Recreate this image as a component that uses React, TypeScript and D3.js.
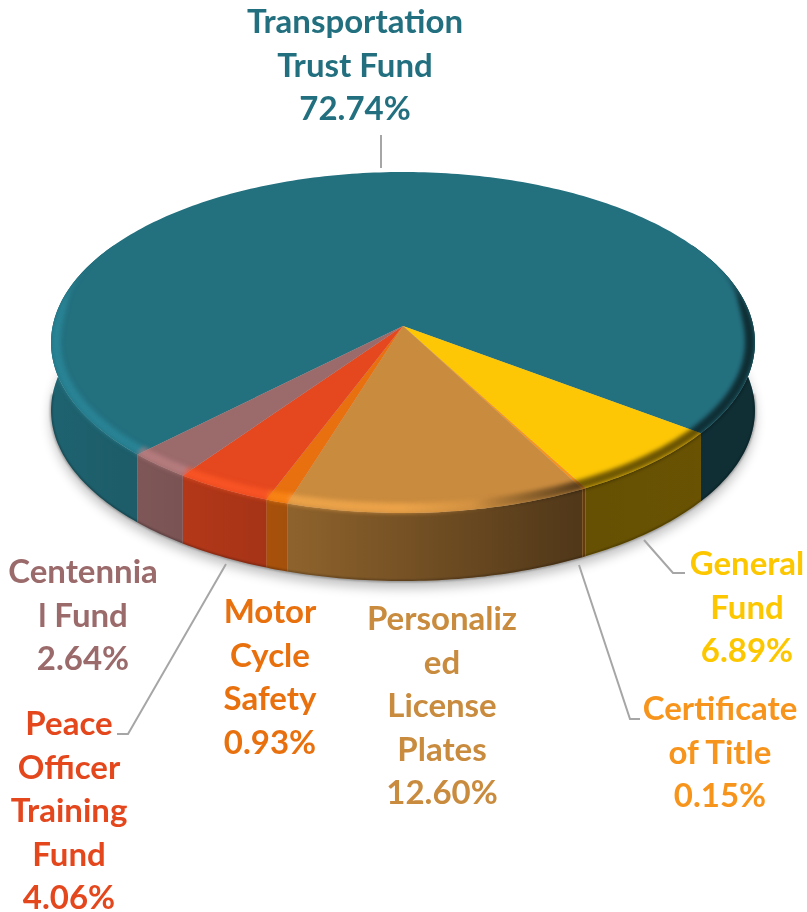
import * as d3 from "d3";

const funds = ["Transportation Trust Fund", "General Fund", "Certificate of Title", "Personalized License Plates", "Motor Cycle Safety", "Peace Officer Training Fund", "Centennial Fund"];
const shares = [72.74, 6.89, 0.15, 12.6, 0.93, 4.06, 2.64];
const colors = ["#23707f", "#fdc706", "#f7941d", "#c98b3e", "#e8700f", "#e5471f", "#9b6a6b"];
const labelLines = [
  ["Transportation", "Trust Fund", "72.74%"],
  ["General", "Fund", "6.89%"],
  ["Certificate", "of Title", "0.15%"],
  ["Personaliz", "ed", "License", "Plates", "12.60%"],
  ["Motor", "Cycle", "Safety", "0.93%"],
  ["Peace", "Officer", "Training", "Fund", "4.06%"],
  ["Centennia", "l Fund", "2.64%"],
];

// where each label block sits
const labelPos = [
  [355, 33], [747, 575], [720, 720], [442, 630], [270, 623], [69, 735], [83, 583],
];
const leaders = [
  [[381, 135], [381, 168]],
  [[644, 540], [673, 573], [685, 573]],
  [[579, 565], [630, 719], [640, 719]],
  [[226, 564], [128, 734], [117, 734]],
];

const W = 807;
const H = 912;
const cx = 403;
const cy = 326;
const depth = 68;
// perspective of the tilted disc
const persp = 0.0968;
const scaleX = 350.3;
const scaleY = 168.9;
const project = (angle: number, r = 1, dy = 0): [number, number] => {
  const x = Math.sin(angle) * r;
  const y = -Math.cos(angle) * r;
  const w = 1 - persp * y;
  return [cx + (scaleX * x) / w, cy + dy + (scaleY * y) / w];
};

const START = (224.9 * Math.PI) / 180;
const arcs = d3
  .pie<number>()
  .sort(null)
  .startAngle(START)
  .endAngle(START + 2 * Math.PI)(shares);

const STEP = Math.PI / 180;
const sample = (a0: number, a1: number) => {
  const n = Math.max(2, Math.ceil((a1 - a0) / STEP));
  return d3.range(n + 1).map((i) => a0 + ((a1 - a0) * i) / n);
};
const line = d3.line<[number, number]>();

const topPath = (a0: number, a1: number) =>
  line([[cx, cy], ...sample(a0, a1).map((a) => project(a))]) + "Z";

// walls only exist between these angles, the rest is behind the top face
const WALL_FROM = Math.PI / 3;
const WALL_TO = (5 * Math.PI) / 3;
const wallBetween = (from: number, to: number) => {
  const a = sample(from, to);
  return (
    line([
      ...a.map((t) => project(t)),
      ...a.slice().reverse().map((t) => project(t, 1, depth)),
    ]) + "Z"
  );
};
const wallPaths = (a0: number, a1: number) => {
  const out: string[] = [];
  [0, 2 * Math.PI].forEach((shift) => {
    const from = Math.max(a0, WALL_FROM + shift);
    const to = Math.min(a1, WALL_TO + shift);
    if (to > from) out.push(wallBetween(from, to));
  });
  return out;
};

// bevel band along the rim, it thins out to nothing towards the back
const BEVEL = 10;
const bevelWidth = (a: number) => {
  const t = Math.min(1, Math.max(0, (-Math.cos(a) + 0.45) / 0.55));
  return BEVEL * d3.easeCubicInOut(t);
};
const bevelPath = (a0: number, a1: number) => {
  const a = sample(a0, a1);
  const inner = a.slice().reverse().map((t): [number, number] => {
    const [x, y] = project(t);
    const b = bevelWidth(t);
    return [x - Math.sin(t) * b, y + Math.cos(t) * b];
  });
  return line([...a.map((t) => project(t)), ...inner]) + "Z";
};

const wholeTop = line(sample(0, 2 * Math.PI).map((a) => project(a))) + "Z";
const wholeBottom = line(sample(0, 2 * Math.PI).map((a) => project(a, 1, depth))) + "Z";
const wholeWall = wallBetween(WALL_FROM, WALL_TO);
const wholeBevel = bevelPath(0, 2 * Math.PI);
const frontBase = line(sample(Math.PI / 2, (3 * Math.PI) / 2).map((a) => project(a, 1, depth)));

const FONT = "Lato, sans-serif";
const FONT_SIZE = 33;
const LINE = 43.5;

export default function App() {
  return (
    <svg
      width={W}
      height={H}
      viewBox={`0 0 ${W} ${H}`}
      style={{ position: "absolute", left: 0, top: 0, background: "#fff" }}
    >
      <defs>
        <linearGradient id="wallShade" gradientUnits="userSpaceOnUse" x1={50} x2={755} y1={0} y2={0}>
          <stop offset="0" stopColor="#000" stopOpacity={0.12} />
          <stop offset="0.35" stopColor="#000" stopOpacity={0.3} />
          <stop offset="0.75" stopColor="#000" stopOpacity={0.6} />
          <stop offset="1" stopColor="#000" stopOpacity={0.58} />
        </linearGradient>
        <linearGradient id="rimDark" gradientUnits="userSpaceOnUse" x1={50} x2={755} y1={0} y2={0}>
          <stop offset="0.6" stopColor="#000" stopOpacity={0} />
          <stop offset="0.75" stopColor="#000" stopOpacity={0.55} />
          <stop offset="1" stopColor="#000" stopOpacity={0.6} />
        </linearGradient>
        <linearGradient id="rimFade" gradientUnits="userSpaceOnUse" x1={50} x2={755} y1={0} y2={0}>
          <stop offset="0.5" stopColor="#b0b0b0" />
          <stop offset="0.64" stopColor="#000" />
        </linearGradient>
        <mask id="leftOnly" maskUnits="userSpaceOnUse" x={0} y={0} width={W} height={H}>
          <rect width={W} height={H} fill="url(#rimFade)" />
        </mask>
        <clipPath id="bodyClip">
          <path d={wholeTop} />
          <path d={wholeWall} />
        </clipPath>
        <filter id="blurBig" x="-10%" y="-10%" width="120%" height="120%">
          <feGaussianBlur stdDeviation={6} />
        </filter>
        <filter id="blurRim" x="-5%" y="-5%" width="110%" height="110%">
          <feGaussianBlur stdDeviation={2} />
        </filter>
        <filter id="blurBase" x="-5%" y="-5%" width="110%" height="110%">
          <feGaussianBlur stdDeviation={1} />
        </filter>
        <filter id="soften" x="-2%" y="-2%" width="104%" height="104%">
          <feGaussianBlur stdDeviation={0.35} />
        </filter>
      </defs>

      <path d={wholeBottom} fill="#000" opacity={0.25} filter="url(#blurBig)" transform="translate(0,7)" />

      <g>
        {arcs.map((arc, i) =>
          wallPaths(arc.startAngle, arc.endAngle).map((d, j) => (
            <g key={`${i}-${j}`}>
              <path d={d} fill={colors[i]} />
              <path d={d} fill="url(#wallShade)" />
            </g>
          ))
        )}
        <path d={frontBase} fill="none" stroke="#000" strokeOpacity={0.35} strokeWidth={2} filter="url(#blurBase)" />
      </g>

      <g>
        {arcs.map((arc, i) => (
          <path key={funds[i]} d={topPath(arc.startAngle, arc.endAngle)} fill={colors[i]} />
        ))}
      </g>

      <g clipPath="url(#bodyClip)">
        <g mask="url(#leftOnly)">
          <g filter="url(#blurRim)">
            {arcs.map((arc, i) => (
              <path
                key={funds[i]}
                d={bevelPath(arc.startAngle, arc.endAngle)}
                fill={d3.rgb(colors[i]).brighter(0.6).formatHex()}
              />
            ))}
          </g>
        </g>
        <path d={wholeBevel} fill="url(#rimDark)" filter="url(#blurRim)" />
      </g>

      <g fill="none" stroke="#a6a6a6" strokeWidth={2}>
        {leaders.map((pts, i) => (
          <path key={i} d={line(pts as [number, number][]) as string} />
        ))}
      </g>

      <g fontFamily={FONT} fontSize={FONT_SIZE} fontWeight={700} textAnchor="middle" filter="url(#soften)">
        {labelLines.map((lines, i) => (
          <text key={funds[i]} fill={colors[i]}>
            {lines.map((t, j) => (
              <tspan key={j} x={labelPos[i][0]} y={labelPos[i][1] + j * LINE}>
                {t}
              </tspan>
            ))}
          </text>
        ))}
      </g>
    </svg>
  );
}
